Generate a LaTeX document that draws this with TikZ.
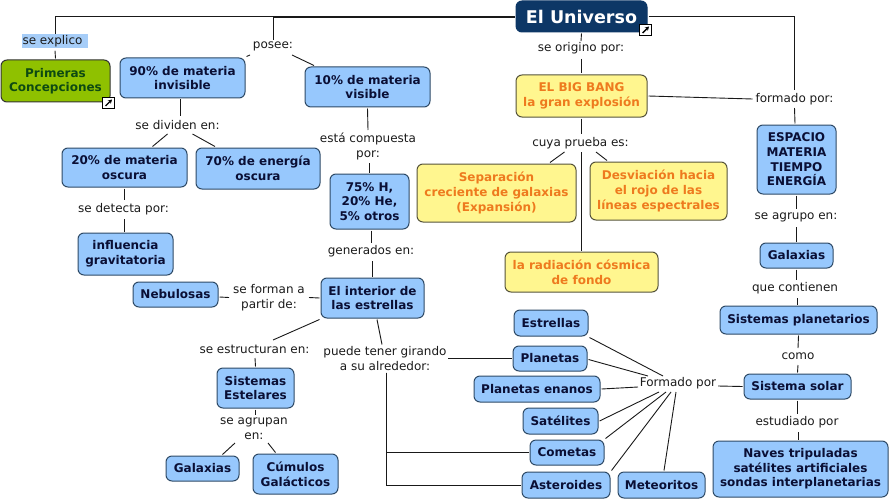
\documentclass[tikz,border=0pt]{standalone}
\usepackage{fontspec}
\setmainfont{DejaVu Sans}
\definecolor{boxblue}{HTML}{97C8FD}
\definecolor{boxedge}{HTML}{2E4A66}
\definecolor{boxink}{HTML}{0A0F35}
\definecolor{sunfill}{HTML}{FFF68F}
\definecolor{sunedge}{HTML}{55533A}
\definecolor{sunink}{HTML}{EE7A1E}
\definecolor{navy}{HTML}{0D3766}
\definecolor{leaf}{HTML}{8FC100}
\definecolor{leafink}{HTML}{0E4A12}
\definecolor{marker}{HTML}{A6CDF8}
\definecolor{labelink}{HTML}{1A1A1A}
\usetikzlibrary{arrows.meta}
\tikzset{
 basebox/.style={rectangle,rounded corners=6pt,draw,line width=1pt,inner sep=0pt,outer sep=1.5pt,align=center,font=\fontsize{12}{14.6}\selectfont\bfseries},
 bluebox/.style={basebox,fill=boxblue,draw=boxedge,text=boxink},
 sunbox/.style={basebox,fill=sunfill,draw=sunedge,text=sunink},
 rootbox/.style={basebox,fill=navy,draw=navy,text=white,font=\fontsize{17.5}{20}\selectfont\bfseries},
 leafbox/.style={basebox,fill=leaf,draw=black!80,text=leafink},
 linklabel/.style={inner sep=0pt,outer sep=0pt,align=center,text=labelink,font=\fontsize{12}{14.6}\selectfont},
 marked/.style={linklabel,fill=marker},
 conn/.style={draw=black!90,line width=0.9pt},
 iconbox/.style={rectangle,draw=black,fill=white,line width=0.8pt,minimum size=11.5pt,inner sep=0pt},
 iconarrow/.style={-{Stealth[length=4pt,width=4.5pt]},line width=1.4pt,black},
}
\newcommand{\bx}[7][bluebox]{\node[#1,minimum width={(#5-#3)*1pt},minimum height={(#6-#4)*1pt}] (#2) at ({(#3+#5)/2},{(#4+#6)/2}) {#7};}
\newcommand{\lb}[7][linklabel]{\node[#1,minimum width=#5pt,minimum height=#6pt] (#2) at (#3,#4) {#7};}
\begin{document}
\begin{tikzpicture}[x=1pt,y=-1pt]
\useasboundingbox (0,0) rectangle (890,500);
% concept boxes
\bx[rootbox]{u}{516}{1}{647}{32}{El Universo}
\bx[leafbox]{prim}{1}{60}{110}{102}{Primeras\\Concepciones}
\bx{mA}{120}{58}{245}{98}{90\% de materia\\invisible}
\bx{mB}{305}{67}{430}{107}{10\% de materia\\visible}
\bx{mC}{62}{148}{187}{187}{20\% de materia\\oscura}
\bx{mD}{196}{148}{320}{189}{70\% de energía\\oscura}
\bx{inf}{78}{233}{173}{275}{influencia\\gravitatoria}
\bx{comp}{330}{174}{409}{229}{75\% H,\\20\% He,\\5\% otros}
\bx{neb}{133}{282}{218}{307}{Nebulosas}
\bx{int}{321}{278}{424}{318}{El interior de\\las estrellas}
\bx{sis}{217}{368}{294}{408}{Sistemas\\Estelares}
\bx{galL}{166}{456}{239}{481}{Galaxias}
\bx{cum}{253}{454}{338}{494}{Cúmulos\\Galácticos}
\bx[sunbox]{big}{516}{75}{647}{117}{EL BIG BANG\\la gran explosión}
\bx[sunbox]{sep}{417}{164}{576}{222}{Separación\\creciente de galaxias\\(Expansión)}
\bx[sunbox]{des}{590}{162}{727}{220}{Desviación hacia\\el rojo de las\\líneas espectrales}
\bx[sunbox]{rad}{505}{252}{658}{292}{la radiación cósmica\\de fondo}
\bx{esp}{757}{125}{836}{194}{ESPACIO\\MATERIA\\TIEMPO\\ENERGÍA}
\bx{galR}{760}{243}{833}{268}{Galaxias}
\bx{spl}{720}{306}{877}{334}{Sistemas planetarios}
\bx{sol}{744}{374}{851}{399}{Sistema solar}
\bx{nav}{713}{441}{888}{497}{Naves tripuladas\\satélites artificiales\\sondas interplanetarias}
\bx{estr}{514}{310}{588}{336}{Estrellas}
\bx{plan}{513}{346}{587}{371}{Planetas}
\bx{ena}{474}{376}{600}{402}{Planetas enanos}
\bx{sat}{523}{408}{598}{434}{Satélites}
\bx{come}{530}{440}{604}{465}{Cometas}
\bx{ast}{522}{472}{610}{498}{Asteroides}
\bx{met}{618}{472}{705}{498}{Meteoritos}
% link labels
\lb[marked]{expl}{55}{41}{66}{13.5}{se explico\hspace*{5pt}}
\lb{pos}{273}{46}{40}{18}{posee:}
\lb{div}{177.5}{125}{86}{18}{se dividen en:}
\lb{esta}{368}{146.5}{96}{33}{está compuesta\\por:}
\lb{det}{123.5}{209}{92}{18}{se detecta por:}
\lb{gen}{371}{251}{86}{18}{generados en:}
\lb{form}{269}{297.5}{80}{33}{se forman a\\partir de:}
\lb{est}{254.5}{349}{110}{18}{se estructuran en:}
\lb{pue}{385}{358.5}{126}{28}{puede tener girando\\a su alrededor:}
\lb{agr}{254}{429}{68}{28}{se agrupan\\en:}
\lb{ori}{581}{48}{88}{18}{se origino por:}
\lb{cuya}{580.5}{143}{98}{18}{cuya prueba es:}
\lb{fma}{794.5}{99}{84}{18}{formado por:}
\lb{agp}{796}{217}{84}{18}{se agrupo en:}
\lb{que}{795}{288}{86}{18}{que contienen}
\lb{como}{798}{356}{46}{18}{como}
\lb{estu}{797}{422}{84}{18}{estudiado por}
\lb{for}{678}{383}{80}{18}{Formado por}
% left part
\draw[conn] (u.west) -| (expl.north);
\draw[conn] ([yshift=-0.6pt]u.west) -| ([yshift=-3pt]pos.north);
\draw[conn] ([yshift=-3pt]expl.south) -- (prim.north);
\draw[conn] ([xshift=-23pt]pos.south) -- (mA.north east);
\draw[conn] ([xshift=19pt]pos.south) -- ([xshift=-53.5pt]mB.north);
\draw[conn] ([xshift=-2.5pt]mA.south) -- ([xshift=2.5pt]div.north);
\draw[conn] ([xshift=-10pt]div.south) -- ([xshift=28pt]mC.north);
\draw[conn] ([xshift=15pt]div.south) -- ([xshift=-43pt]mD.north);
\draw[conn] (mB.south) -- (esta.north);
\draw[conn] ([xshift=1.5pt]esta.south) -- (comp.north);
\draw[conn] (mC.south) -- ([xshift=1pt]det.north);
\draw[conn] ([xshift=1pt,yshift=-1pt]det.south) -- ([xshift=-1pt]inf.north);
\draw[conn] ([xshift=1.5pt]comp.south) -- ([yshift=-1pt]gen.north);
\draw[conn] ([xshift=1pt,yshift=-1pt]gen.south) -- ([xshift=-0.5pt]int.north);
\draw[conn] ([yshift=-2.5pt]neb.east) -- (form.west);
\draw[conn] (form.east) -- (int.west);
\draw[conn] (int.south west) -- ([xshift=18.5pt]est.north);
\draw[conn] ([xshift=0.5pt]est.south) -- (sis.north);
\draw[conn] (sis.south) -- ([xshift=1.5pt]agr.north);
\draw[conn] ([xshift=-19pt]agr.south) -- ([xshift=20pt]galL.north);
\draw[conn] ([xshift=14pt]agr.south) -- ([xshift=-20pt]cum.north);
\draw[conn] ([xshift=4.5pt]int.south) -- ([xshift=-3pt]pue.north);
\draw[conn] (pue.east) -- (plan.west);
\draw[conn] ([xshift=1pt]pue.south) |- (come.west);
\draw[conn] ([xshift=1pt]pue.south) |- (ast.west);
% centre part
\draw[conn] (u.south) -- ([yshift=-2pt]ori.north);
\draw[conn] ([xshift=0.5pt,yshift=-2pt]ori.south) -- (big.north);
\draw[conn] (big.south) -- ([xshift=1pt]cuya.north);
\draw[conn] ([xshift=-16pt]cuya.south) -- ([xshift=53.5pt]sep.north);
\draw[conn] ([xshift=15.5pt]cuya.south) -- ([xshift=-51.5pt]des.north);
\draw[conn] ([xshift=1pt]cuya.south) -- (rad.north);
\draw[conn] (big.east) -- (fma.west);
\draw[conn] (u.east) -| (fma.north);
% right part
\draw[conn] (fma.south) -- ([xshift=-1.5pt]esp.north);
\draw[conn] (esp.south) -- ([xshift=0.5pt,yshift=-1pt]agp.north);
\draw[conn] ([xshift=0.5pt,yshift=-1pt]agp.south) -- (galR.north);
\draw[conn] (galR.south) -- ([xshift=1.5pt,yshift=-1pt]que.north);
\draw[conn] ([xshift=2pt,yshift=-1pt]que.south) -- ([xshift=-1.5pt]spl.north);
\draw[conn] (spl.south) -- ([yshift=-1pt]como.north);
\draw[conn] (como.south) -- (sol.north);
\draw[conn] (sol.south) -- ([xshift=0.5pt,yshift=-1pt]estu.north);
\draw[conn] ([xshift=1pt,yshift=-1pt]estu.south) -- ([xshift=-2.5pt]nav.north);
% Formado por
\draw[conn] ([yshift=-3pt]for.east) -- (sol.west);
\draw[conn] (estr.south east) -- ([xshift=-15pt,yshift=-2pt]for.north);
\draw[conn] ([yshift=-1pt]plan.east) -- ([xshift=-30pt,yshift=-2pt]for.north);
\draw[conn] (ena.east) -- ([yshift=-4pt]for.west);
\draw[conn] (sat.east) -- ([xshift=-19pt]for.south);
\draw[conn] (come.north east) -- ([xshift=-12pt]for.south);
\draw[conn] (ast.north east) -- ([xshift=-7pt]for.south);
\draw[conn] ([xshift=2.5pt]met.north) -- ([xshift=-2pt]for.south);
% link icons
\node[iconbox] (icA) at (645.5,30) {};
\draw[iconarrow] ([shift={(-3pt,-3pt)}]icA.center) -- ([shift={(3.5pt,3.5pt)}]icA.center);
\node[iconbox] (icB) at (108.5,103) {};
\draw[iconarrow] ([shift={(-3pt,-3pt)}]icB.center) -- ([shift={(3.5pt,3.5pt)}]icB.center);
\end{tikzpicture}
\end{document}
